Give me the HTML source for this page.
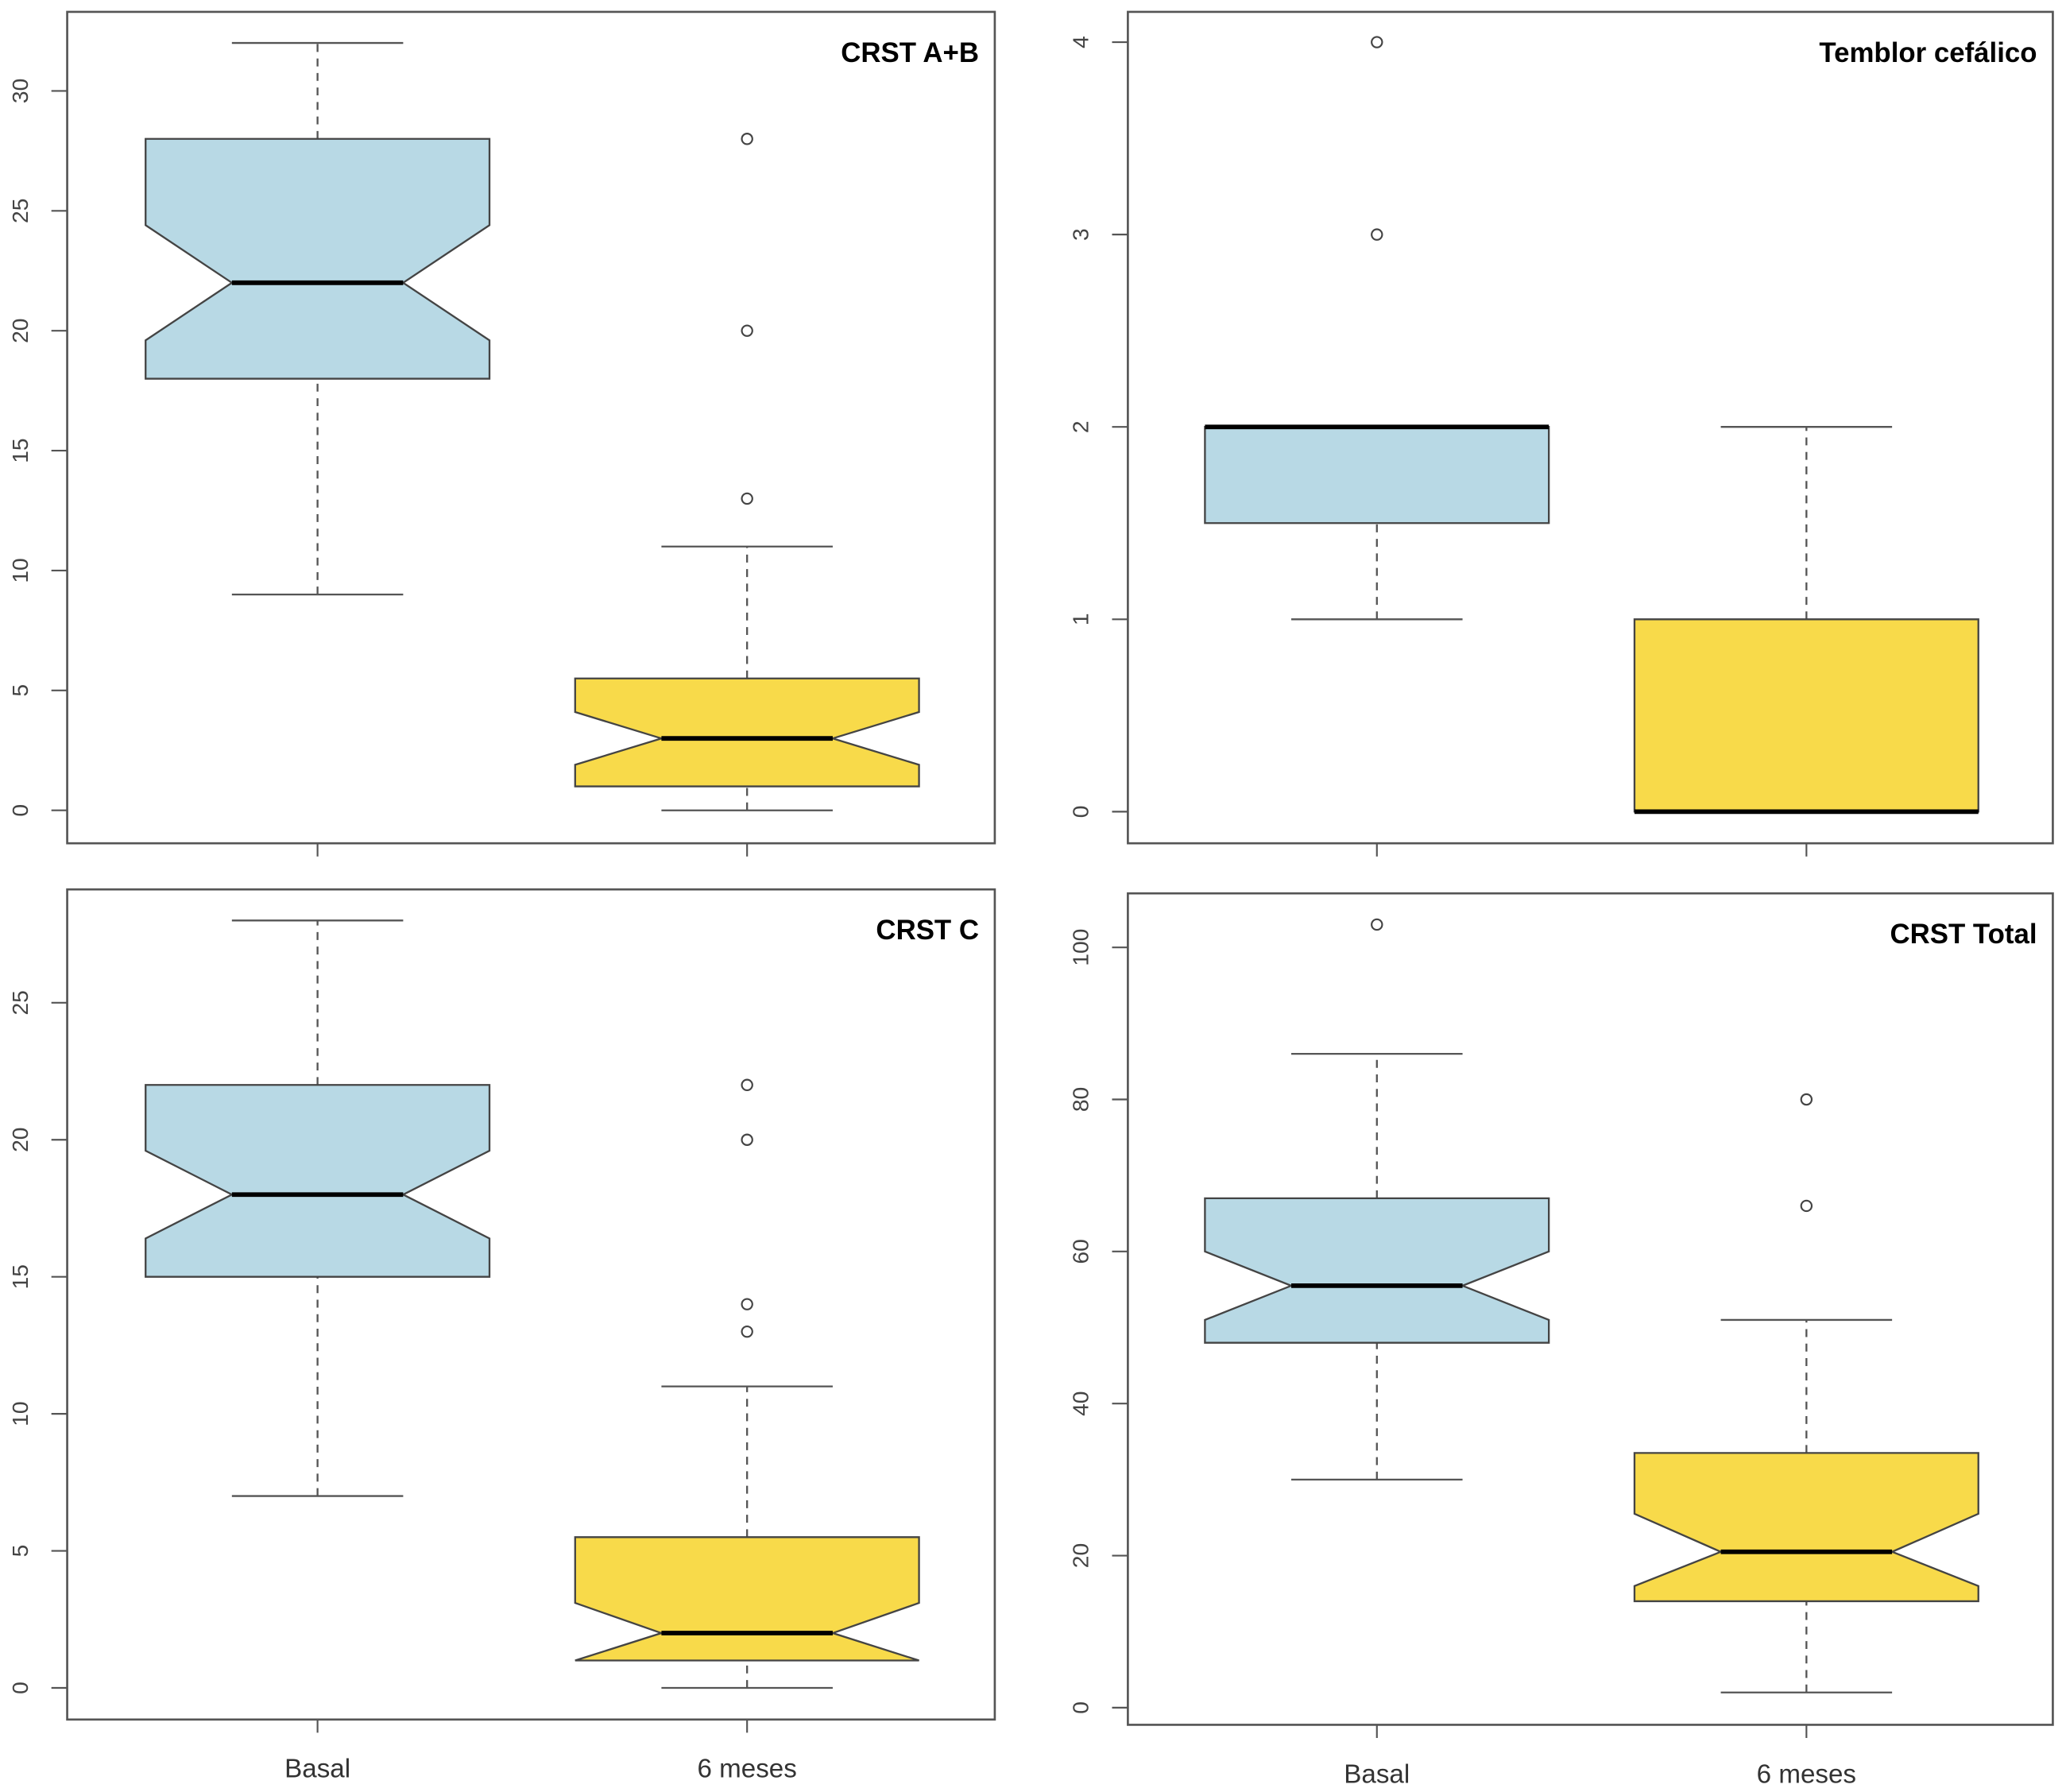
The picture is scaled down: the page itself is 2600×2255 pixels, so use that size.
<!DOCTYPE html>
<html><head><meta charset="utf-8"><style>
html,body{margin:0;padding:0;background:#fff;}
svg{display:block;}
text{font-family:"Liberation Sans",sans-serif;}
</style></head><body>
<svg id="chart" width="2600" height="2255" viewBox="0 0 1568 1360" preserveAspectRatio="none" xmlns="http://www.w3.org/2000/svg"></svg>
<script>
const groupLabels = ["Basal", "6 meses"];
const panelTitles = ["CRST A+B", "Temblor cefálico", "CRST C", "CRST Total"];
const tickLabels = [[0,5,10,15,20,25,30],[0,1,2,3,4],[0,5,10,15,20,25],[0,20,40,60,80,100]];
const yRanges = [[0,30],[0,4],[0,25],[0,100]];
// per panel: [basal, 6m] each [lowWhisk, q1, median, q3, highWhisk, notchLo, notchHi]
const statsAB = [[9,18,22,28,32,19.6,24.4],[0,1,3,5.5,11,1.9,4.1]];
const statsTemblor = [[1,1.5,2,2,2,null,null],[0,0,0,1,2,null,null]];
const statsC = [[7,15,18,22,28,16.4,19.6],[0,1,2,5.5,11,1,3.1]];
const statsTotal = [[30,48,55.5,67,86,51,60],[2,14,20.5,33.5,51,16,25.5]];
const outliersAB = [[],[13,20,28]];
const outliersTemblor = [[3,4],[]];
const outliersC = [[],[13,14,20,22]];
const outliersTotal = [[103],[66,80]];

const allStats=[statsAB,statsTemblor,statsC,statsTotal];
const allOut=[outliersAB,outliersTemblor,outliersC,outliersTotal];
// layout (geometry, not data)
const panels=[
 {l:51,r:755,t:9,b:640,y0:615,y1:69,xs:[241,567],lab:null},
 {l:856,r:1558,t:9,b:640,y0:616,y1:32,xs:[1045,1371],lab:null},
 {l:51,r:755,t:675,b:1305,y0:1281,y1:761,xs:[241,567],lab:1342},
 {l:856,r:1558,t:678,b:1309,y0:1296,y1:719,xs:[1045,1371],lab:1346}];
const fills=["#b8d9e5","#f8da4a"];
const svg=document.getElementById('chart');
const NS="http://www.w3.org/2000/svg";
function mk(tag,attrs,parent){const e=document.createElementNS(NS,tag);for(const k in attrs)e.setAttribute(k,attrs[k]);(parent||svg).appendChild(e);return e;}

panels.forEach((p,pi)=>{
  const g=mk('g',{});
  
  
  const [v0,v1]=yRanges[pi];
  const Y=v=>p.y0+(v-v0)*(p.y1-p.y0)/(v1-v0);
  const fr=mk('rect',{x:p.l,y:p.t,width:p.r-p.l,height:p.b-p.t,fill:'none',stroke:'#555','stroke-width':1.6},g);
  
  
  tickLabels[pi].forEach(tv=>{
    const y=Y(tv);
    const tk=mk('line',{x1:p.l-12,x2:p.l,y1:y,y2:y,stroke:'#555','stroke-width':1.3},g);
    
    
    const tx=p.l-36;
    const t=mk('text',{x:tx,y:y,'font-size':17,fill:'#444','text-anchor':'middle','dominant-baseline':'central',transform:`rotate(-90 ${tx} ${y})`},g);
    t.textContent=tv;
    
    
  });
  const tt=mk('text',{x:p.r-12,y:p.t+38,'font-size':21,'font-weight':'bold',fill:'#000','text-anchor':'end'},g);
  tt.textContent=panelTitles[pi];
  
  
  const hw=130.5, cw=65;
  allStats[pi].forEach((s,gi)=>{
    const cx=p.xs[gi];
    const xt=mk('line',{x1:cx,x2:cx,y1:p.b,y2:p.b+10,stroke:'#555','stroke-width':1.3},g);
    
    
    if(p.lab){const lt=mk('text',{x:cx,y:p.lab+7,'font-size':20,fill:'#333','text-anchor':'middle'},g);lt.textContent=groupLabels[gi];
      
      }
    const [lw,q1,md,q3,hwv,nl,nh]=s;
    // whiskers
    [[lw,q1],[q3,hwv]].forEach(([a,b])=>{ if(a!==b){
      const w=mk('line',{x1:cx,x2:cx,y1:Y(a),y2:Y(b),stroke:'#555','stroke-width':1.4,'stroke-dasharray':'6,5'},g);
      
      }});
    [lw,hwv].forEach(v=>{const c=mk('line',{x1:cx-cw,x2:cx+cw,y1:Y(v),y2:Y(v),stroke:'#555','stroke-width':1.4},g);
      
      });
    let d;
    if(nl===null){
      d=`M${cx-hw},${Y(q1)}H${cx+hw}V${Y(q3)}H${cx-hw}Z`;
    } else {
      const l=cx-hw,r=cx+hw,li=cx-cw,ri=cx+cw;
      d=`M${l},${Y(q1)}L${l},${Y(nl)}L${li},${Y(md)}L${l},${Y(nh)}L${l},${Y(q3)}L${r},${Y(q3)}L${r},${Y(nh)}L${ri},${Y(md)}L${r},${Y(nl)}L${r},${Y(q1)}Z`;
    }
    const bx=mk('path',{d:d,fill:fills[gi],stroke:'#444','stroke-width':1.4},g);
    
    
    const mw=nl===null?hw:cw;
    const ml=mk('line',{x1:cx-mw,x2:cx+mw,y1:Y(md),y2:Y(md),stroke:'#000','stroke-width':3.5},g);
    
    
    allOut[pi][gi].forEach(v=>{
      const o=mk('circle',{cx:cx,cy:Y(v),r:4,fill:'none',stroke:'#444','stroke-width':1.3},g);
      
      
    });
  });
});
</script>
</body></html>
